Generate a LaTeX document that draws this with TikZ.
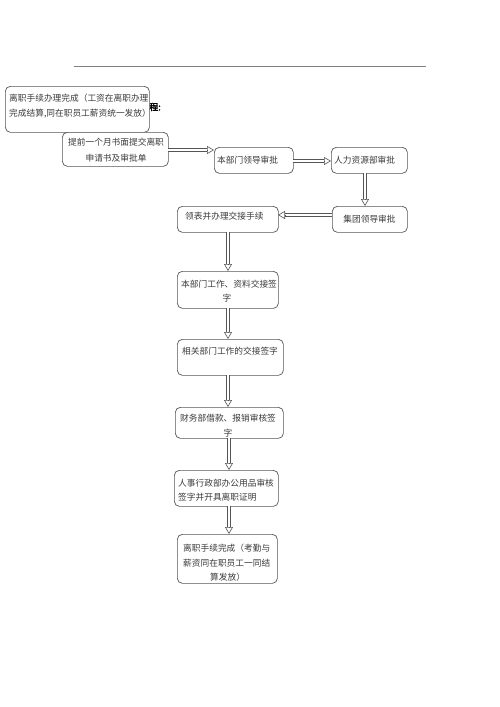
\documentclass[tikz,border=0pt]{standalone}
\usepackage{fontspec}
\newfontfamily\cjk{Noto Sans CJK SC}
\newfontfamily\cjkb[FakeBold=2.5]{Noto Sans CJK SC}
\usetikzlibrary{arrows.meta,calc}
\definecolor{linegray}{HTML}{555555}
\definecolor{textgray}{HTML}{3A3A3A}
\tikzset{
  flowbox/.style={draw=linegray, line width=0.7pt, rounded corners=5pt, fill=white,
    inner sep=0pt, anchor=north west},
  txt/.style={font=\cjk\fontsize{8.7}{10}\selectfont, text=textgray, inner sep=0pt, anchor=west},
  shaft/.style={draw=linegray, line width=0.6pt, double=white, double distance=2.4pt},
  headtip/.style={draw=linegray, line width=0.6pt, -{Triangle[open,length=7pt,width=8pt]}},
  rule/.style={draw=gray, line width=1pt}
}
\newcommand\dblarrow[2]{%
  \draw[shaft] (#1) -- ($(#2)!7pt!(#1)$);
  \draw[headtip] ($(#2)!7pt!(#1)$) -- (#2);}
\begin{document}
\begin{tikzpicture}[x=1pt,y=-1pt]
\useasboundingbox (0,0) rectangle (500,707);
% top rule
\coordinate (r1) at (74,66.5);
\coordinate (r2) at (426,66.5);
\draw[rule] (r1) -- (r2);
% partly hidden title
\node[font=\cjkb\fontsize{9}{10}\selectfont, text=black, inner sep=0pt, anchor=east] (ttl) at (161,107) {程:};
% boxes
\node[flowbox, minimum width=144pt, minimum height=46pt] (A) at (5,86) {};
\node[flowbox, minimum width=106pt, minimum height=34pt] (B) at (62,132) {};
\node[flowbox, minimum width=79pt, minimum height=26pt] (C) at (214,147) {};
\node[flowbox, minimum width=76pt, minimum height=26pt] (D) at (331,147) {};
\node[flowbox, minimum width=75pt, minimum height=26pt] (E) at (332,206) {};
\node[flowbox, minimum width=101pt, minimum height=26pt] (F) at (177,206) {};
\node[flowbox, minimum width=101pt, minimum height=37pt] (G) at (177,271) {};
\node[flowbox, minimum width=106pt, minimum height=36pt] (H) at (177,339) {};
\node[flowbox, minimum width=108pt, minimum height=31pt] (I) at (175,407) {};
\node[flowbox, minimum width=104pt, minimum height=36pt] (J) at (174,470) {};
\node[flowbox, minimum width=100pt, minimum height=49pt] (K) at (177,534) {};
% texts
\node[txt] (A1) at (9,98) {离职手续办理完成（工资在离职办理};
\node[txt] (A2) at (9,114) {完成结算,同在职员工薪资统一发放）};
\node[txt] (B1) at (68,142) {提前一个月书面提交离职};
\node[txt, anchor=center] (B2) at (116,158) {申请书及审批单};
\node[txt] (C1) at (217,160) {本部门领导审批};
\node[txt] (D1) at (334,160) {人力资源部审批};
\node[txt, anchor=center] (E1) at (369.5,219) {集团领导审批};
\node[txt] (F1) at (185,216) {领表并办理交接手续};
\node[txt] (G1) at (181,284) {本部门工作、资料交接签};
\node[txt, anchor=center] (G2) at (227,298) {字};
\node[txt] (H1) at (182,351) {相关部门工作的交接签字};
\node[txt] (I1) at (180,418) {财务部借款、报销审核签};
\begin{scope}
\clip (175,407) rectangle (283,437.3);
\node[txt, anchor=center] (I2) at (228,433) {字};
\end{scope}
\node[txt] (J1) at (178,483) {人事行政部办公用品审核};
\node[txt] (J2) at (178,497) {签字并开具离职证明};
\node[txt] (K1) at (183,548) {离职手续完成（考勤与};
\node[txt] (K2) at (183,563) {薪资同在职员工一同结};
\begin{scope}
\clip (177,534) rectangle (277,580.5);
\node[txt] (K3) at (210,577) {算发放）};
\end{scope}
% connector end points
\coordinate (bc1) at (168,150);
\coordinate (bc2) at (214,150);
\coordinate (cd1) at (293,161);
\coordinate (cd2) at (331,161);
\coordinate (de1) at (365,173);
\coordinate (de2) at (365,206);
\coordinate (ef1) at (332,215);
\coordinate (ef2) at (278,215);
\coordinate (fg1) at (228,232);
\coordinate (fg2) at (228,271);
\coordinate (gh1) at (228,308);
\coordinate (gh2) at (228,339);
\coordinate (hi1) at (228,375);
\coordinate (hi2) at (228,407);
\coordinate (ij1) at (229,438);
\coordinate (ij2) at (229,470);
\coordinate (jk1) at (229,506);
\coordinate (jk2) at (229,534);
% connectors
\dblarrow{bc1}{bc2}
\dblarrow{cd1}{cd2}
\dblarrow{de1}{de2}
\dblarrow{ef1}{ef2}
\dblarrow{fg1}{fg2}
\dblarrow{gh1}{gh2}
\dblarrow{hi1}{hi2}
\dblarrow{ij1}{ij2}
\dblarrow{jk1}{jk2}
\end{tikzpicture}
\end{document}
